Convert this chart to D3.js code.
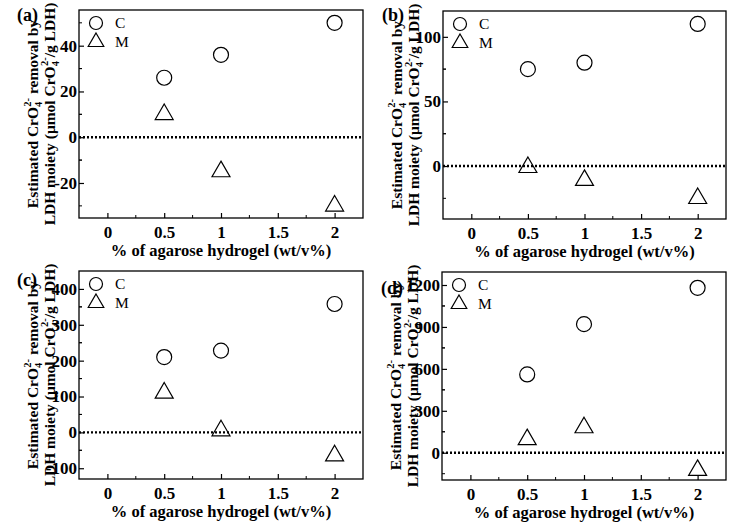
<!DOCTYPE html>
<html>
<head>
<meta charset="utf-8">
<script src="https://cdn.jsdelivr.net/npm/d3@7"></script>
<style>
  body { margin: 0; background: #fff; }
  svg text { font-family: "Liberation Serif", "Times New Roman", serif; }
</style>
</head>
<body>
<div id="chart"></div>
<script>
// data
const xValues = [0.5, 1, 2];
const xTicks = [0, 0.5, 1, 1.5, 2];
const xDomain = [-0.25, 2.25];

const cA = [26, 36, 50];
const mA = [10, -15, -30];
const cB = [75, 80, 110];
const mB = [-1, -11, -25];
const cC = [210, 228, 358];
const mC = [110, 5, -65];
const cD = [560, 920, 1180];
const mD = [95, 180, -125];

const yTicksA = [-20, 0, 20, 40];
const yTicksB = [0, 50, 100];
const yTicksC = [-100, 0, 100, 200, 300, 400];
const yTicksD = [0, 300, 600, 900, 1200];

const yDomainA = [-35.3, 55.6];
const yDomainB = [-41, 120];
const yDomainC = [-130, 450];
const yDomainD = [-195, 1293];

const panelLabels = ["(a)", "(b)", "(c)", "(d)"];
const seriesNames = ["C", "M"];

const svg = d3.select("#chart").append("svg")
    .attr("width", 732)
    .attr("height", 522);

const panels = [
    {label: panelLabels[0], c: cA, m: mA, ticks: yTicksA, domain: yDomainA, left: 79, top: 10, right: 363, bottom: 218, lx: 17, ly: 21},
    {label: panelLabels[1], c: cB, m: mB, ticks: yTicksB, domain: yDomainB, left: 443, top: 11, right: 726, bottom: 219, lx: 382, ly: 21},
    {label: panelLabels[2], c: cC, m: mC, ticks: yTicksC, domain: yDomainC, left: 79, top: 271, right: 363, bottom: 479, lx: 17, ly: 286},
    {label: panelLabels[3], c: cD, m: mD, ticks: yTicksD, domain: yDomainD, left: 442, top: 272, right: 726, bottom: 480, lx: 381, ly: 294}
];

function triangle(size) {
    return d3.symbol().type(d3.symbolTriangle).size(size)();
}

function drawPanel(p) {
    const g = svg.append("g");
    const x = d3.scaleLinear().domain(xDomain).range([p.left, p.right]);
    const y = d3.scaleLinear().domain(p.domain).range([p.bottom, p.top]);

    // frame
    g.append("rect")
        .attr("x", p.left).attr("y", p.top)
        .attr("width", p.right - p.left).attr("height", p.bottom - p.top)
        .attr("fill", "none").attr("stroke", "#000").attr("stroke-width", 1.3);

    // minor tick positions
    const step = p.ticks[1] - p.ticks[0];
    const xMinor = xTicks.slice(0, -1).map(t => t + 0.25);
    const yMinor = [];
    p.ticks.forEach(t => yMinor.push(t - step / 2, t + step / 2));
    const yMinorIn = yMinor.filter(v => v > p.domain[0] && v < p.domain[1] && !p.ticks.includes(v));

    // x axis, ticks point inward
    const xAxis = d3.axisBottom(x).tickValues(xTicks).tickSize(-5).tickFormat(d3.format("~g")).tickPadding(8);
    const xa = g.append("g").attr("transform", `translate(0,${p.bottom})`).call(xAxis);
    xa.select(".domain").remove();
    xa.selectAll("line").attr("stroke-width", 1.2);
    xa.selectAll("text").attr("font-size", 17).attr("font-weight", "bold")
        .attr("font-family", "Liberation Serif, serif").attr("fill", "#000");
    g.append("g").selectAll("line").data(xMinor).join("line")
        .attr("x1", d => x(d)).attr("x2", d => x(d))
        .attr("y1", p.bottom).attr("y2", p.bottom - 3)
        .attr("stroke", "#000").attr("stroke-width", 1);

    const yAxis = d3.axisLeft(y).tickValues(p.ticks).tickSize(-5).tickPadding(2)
        .tickFormat(d => d < 0 ? "-" + Math.abs(d) : d);
    const ya = g.append("g").attr("transform", `translate(${p.left},0)`).call(yAxis);
    ya.select(".domain").remove();
    ya.selectAll("line").attr("stroke-width", 1.2);
    ya.selectAll("text").attr("font-size", 17).attr("font-weight", "bold")
        .attr("font-family", "Liberation Serif, serif").attr("fill", "#000");
    g.append("g").selectAll("line").data(yMinorIn).join("line")
        .attr("x1", p.left).attr("x2", p.left + 3)
        .attr("y1", d => y(d)).attr("y2", d => y(d))
        .attr("stroke", "#000").attr("stroke-width", 1);

    // zero line
    g.append("line")
        .attr("x1", p.left).attr("x2", p.right)
        .attr("y1", y(0)).attr("y2", y(0))
        .attr("stroke", "#000").attr("stroke-width", 2.4)
        .attr("stroke-dasharray", "2,2");

    // markers
    g.append("g").selectAll("circle").data(p.c).join("circle")
        .attr("cx", (d, i) => x(xValues[i]))
        .attr("cy", d => y(d))
        .attr("r", 7.5)
        .attr("fill", "none").attr("stroke", "#000").attr("stroke-width", 1.2);
    g.append("g").selectAll("path").data(p.m).join("path")
        .attr("d", triangle(140))
        .attr("transform", (d, i) => `translate(${x(xValues[i])},${y(d)})`)
        .attr("fill", "none").attr("stroke", "#000").attr("stroke-width", 1.2);

    // legend
    const lg = g.append("g").attr("transform", `translate(${p.left + 17},${p.top + 13})`);
    lg.append("circle").attr("r", 6.5).attr("fill", "none").attr("stroke", "#000").attr("stroke-width", 1.2);
    lg.append("path").attr("d", triangle(105)).attr("transform", "translate(0,19)")
        .attr("fill", "none").attr("stroke", "#000").attr("stroke-width", 1.2);
    lg.selectAll("text").data(seriesNames).join("text")
        .attr("x", 19).attr("y", (d, i) => i * 19 + 5)
        .attr("font-size", 15.5).text(d => d);

    // x title
    g.append("text")
        .attr("x", (p.left + p.right) / 2).attr("y", p.bottom + 38)
        .attr("text-anchor", "middle").attr("font-size", 16.5).attr("font-weight", "bold")
        .text("% of agarose hydrogel (wt/v%)");

    // y title, two lines
    const cy = (p.top + p.bottom) / 2;
    const t1 = g.append("text")
        .attr("transform", `translate(${p.left - 41},${cy}) rotate(-90)`)
        .attr("text-anchor", "middle").attr("font-size", 15.5).attr("font-weight", "bold");
    t1.append("tspan").text("Estimated CrO");
    t1.append("tspan").attr("font-size", 10.5).attr("dy", 4).text("4");
    t1.append("tspan").attr("font-size", 10.5).attr("dy", -11).attr("dx", -5).text("2-");
    t1.append("tspan").attr("dy", 7).text(" removal by");

    const t2 = g.append("text")
        .attr("transform", `translate(${p.left - 24},${cy}) rotate(-90)`)
        .attr("text-anchor", "middle").attr("font-size", 15.5).attr("font-weight", "bold");
    t2.append("tspan").text("LDH moiety (\u03bcmol CrO");
    t2.append("tspan").attr("font-size", 10.5).attr("dy", 4).text("4");
    t2.append("tspan").attr("font-size", 10.5).attr("dy", -11).attr("dx", -5).text("2-");
    t2.append("tspan").attr("dy", 7).text("/g LDH)");

    // panel label
    g.append("text").attr("x", p.lx).attr("y", p.ly)
        .attr("font-size", 18).attr("font-weight", "bold").text(p.label);
}

panels.forEach(drawPanel);
</script>
</body>
</html>
